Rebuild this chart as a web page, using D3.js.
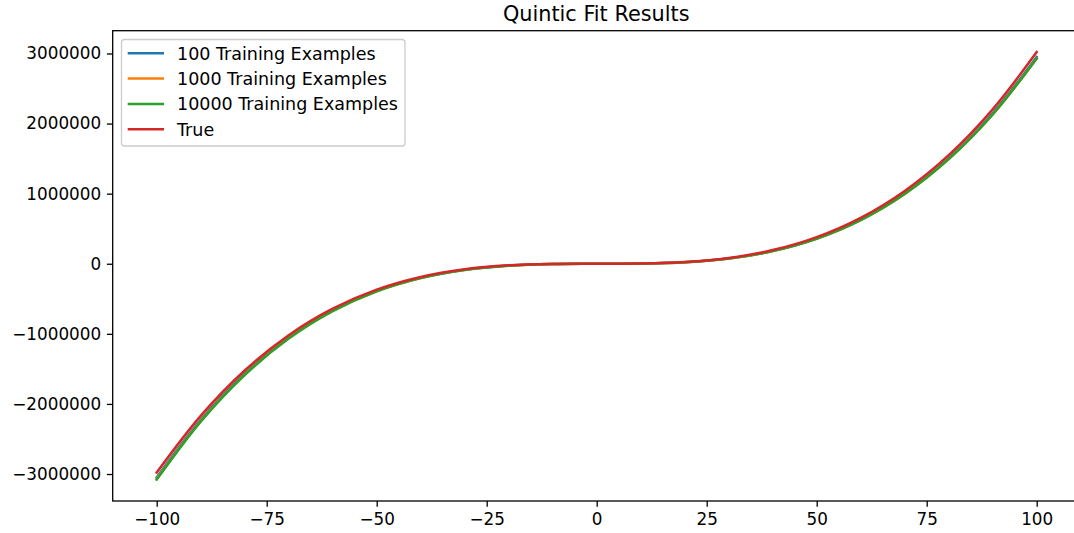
<!DOCTYPE html>
<html>
<head>
<meta charset="utf-8">
<script src="https://cdn.jsdelivr.net/npm/d3@7"></script>
<style>
  html, body { margin: 0; padding: 0; background: #fff; }
  svg { display: block; font-family: "DejaVu Sans", sans-serif; }
</style>
</head>
<body>
<svg id="chart" width="1074" height="533"></svg>
<script>
// ---- data ----
const xs = [-100, -90, -80, -70, -60, -50, -40, -30, -20, -10, 0, 10, 20, 30, 40, 50, 60, 70, 80, 90, 100];
const fit100 = [-3050000, -2228000, -1568000, -1053000, -666000, -388000, -200000, -85000, -26000, -3500, 0,
                2500, 22000, 76000, 184000, 363000, 630000, 1005000, 1505000, 2147000, 2950000];
const fit1000 = [-3070000, -2244000, -1581000, -1063000, -673000, -392000, -203000, -87000, -26600, -3700, 0,
                 2300, 21200, 74700, 181000, 357500, 623000, 995000, 1492000, 2130000, 2930000];
const fit10000 = [-3080000, -2252000, -1587000, -1068000, -677000, -395000, -205000, -88000, -27000, -3800, 0,
                  2300, 21000, 74000, 181000, 357000, 622000, 995000, 1492000, 2130000, 2930000];
const trueVals = [-2980000, -2171000, -1523000, -1019000, -641000, -370000, -189000, -79000, -23000, -2800, 0,
                  3200, 24800, 82800, 195000, 380000, 655000, 1039000, 1549000, 2203000, 3020000];
const seriesNames = ["100 Training Examples", "1000 Training Examples", "10000 Training Examples", "True"];
const seriesColors = ["#1f77b4", "#ff7f0e", "#2ca02c", "#d62728"];
const xTicks = [-100, -75, -50, -25, 0, 25, 50, 75, 100];
const yTicks = [-3000000, -2000000, -1000000, 0, 1000000, 2000000, 3000000];
const titleText = "Quintic Fit Results";

// ---- layout ----
const svg = d3.select("#chart");
const L = 112.7, R = 1080.7, T = 30.7, B = 501;
const x = d3.scaleLinear().domain([-110, 110]).range([L, R]);
const y = d3.scaleLinear().domain([-3385000, 3325000]).range([B, T]);
const fs = 16.8;
const minus = s => String(s).replace("-", "\u2212");

// series lines
const allSeries = [fit100, fit1000, fit10000, trueVals];
const line = d3.line().x(d => x(d[0])).y(d => y(d[1])).curve(d3.curveCatmullRom.alpha(0.5));
allSeries.forEach((vals, i) => {
  svg.append("path")
    .datum(xs.map((xv, j) => [xv, vals[j]]))
    .attr("fill", "none")
    .attr("stroke", seriesColors[i])
    .attr("stroke-width", 2.5)
    .attr("stroke-linecap", "square")
    .attr("d", line);
});

// frame (spines)
svg.append("rect").attr("x", L).attr("y", T).attr("width", R - L).attr("height", B - T)
  .attr("fill", "none").attr("stroke", "#000").attr("stroke-width", 1.3);

// x axis
const xAxis = d3.axisBottom(x).tickValues(xTicks).tickSize(5.8).tickPadding(5.8)
  .tickFormat(d => minus(d));
const gx = svg.append("g").attr("transform", `translate(0,${B})`).call(xAxis);
gx.select(".domain").remove();
gx.selectAll(".tick line").attr("stroke", "#000").attr("stroke-width", 1.3);
gx.selectAll(".tick text").attr("font-size", fs).attr("font-family", "DejaVu Sans").attr("fill", "#000");

// y axis
const yAxis = d3.axisLeft(y).tickValues(yTicks).tickSize(5.8).tickPadding(5.8)
  .tickFormat(d => minus(d));
const gy = svg.append("g").attr("transform", `translate(${L},0)`).call(yAxis);
gy.select(".domain").remove();
gy.selectAll(".tick line").attr("stroke", "#000").attr("stroke-width", 1.3);
gy.selectAll(".tick text").attr("font-size", fs).attr("font-family", "DejaVu Sans").attr("fill", "#000");

// title
svg.append("text").attr("x", (L + R) / 2 - 0.5).attr("y", 20.7).attr("text-anchor", "middle")
  .attr("font-size", 20.8).attr("fill", "#000").text(titleText);

// legend
const lg = svg.append("g");
lg.append("rect").attr("x", 121.5).attr("y", 39.5).attr("width", 283.5).attr("height", 106.5)
  .attr("rx", 3).attr("fill", "#fff").attr("fill-opacity", 0.8)
  .attr("stroke", "#cccccc").attr("stroke-width", 1.3);
seriesNames.forEach((name, i) => {
  const yy = 53.3 + i * 25.3;
  lg.append("line").attr("x1", 127.7).attr("x2", 164).attr("y1", yy).attr("y2", yy)
    .attr("stroke", seriesColors[i]).attr("stroke-width", 2.5);
  lg.append("text").attr("x", 177).attr("y", yy).attr("dy", "0.36em")
    .attr("font-size", 17.5).attr("fill", "#000").text(name);
});
</script>
</body>
</html>
